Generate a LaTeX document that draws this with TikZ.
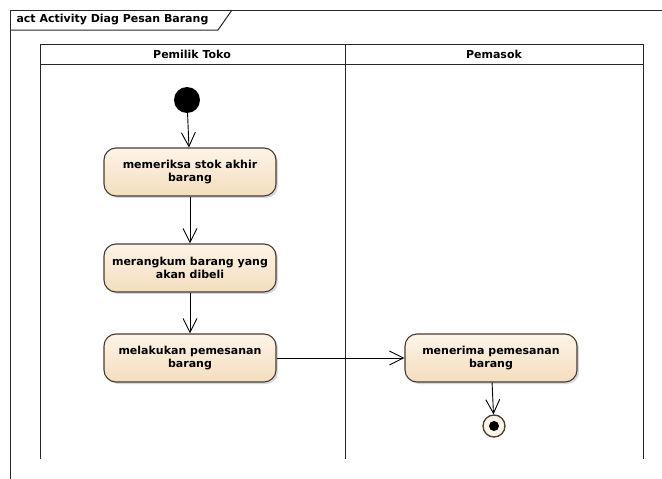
\documentclass[tikz,border=0pt]{standalone}
\usepackage{fontspec}
\setmainfont{DejaVu Sans}
\usetikzlibrary{arrows.meta,positioning,shadows}

\definecolor{acttop}{RGB}{253,244,232}
\definecolor{actbottom}{RGB}{244,221,190}
\definecolor{actline}{RGB}{70,60,50}

\begin{document}
\begin{tikzpicture}
  [x=1pt,y=-1pt,
   action/.style={rectangle,rounded corners=12pt,draw=actline,line width=1.1pt,top color=acttop,bottom color=actbottom,minimum width=172pt,minimum height=48pt,align=center,font=\fontsize{11}{13}\selectfont\bfseries,drop shadow={shadow xshift=2pt,shadow yshift=-2pt,fill=black!30}},
   initial/.style={circle,fill=black,minimum size=26pt,inner sep=0pt},
   final/.style={circle,draw=actline,line width=1.3pt,fill=acttop,minimum size=22pt,inner sep=0pt,path picture={\fill[black] (path picture bounding box.center) circle (5pt);}},
   lane/.style={line width=1pt,draw=black!85},
   header/.style={font=\fontsize{11}{13}\selectfont\bfseries},
   flow/.style={line width=0.9pt,-{Straight Barb[length=14pt,width=14pt,line width=0.9pt]}}]
  \useasboundingbox (0,0) rectangle (662,479);
  % diagram frame and title tab
  \draw[lane] (10,479) -- (10,10) -- (662,10);
  \draw[lane] (10,30) -- (218,30) -- (232,10);
  \node[header,anchor=west] (title) at (13,20) {act Activity Diag Pesan Barang};
  % swimlanes
  \draw[lane] (40,459) -- (40,44) -- (643,44) -- (643,459);
  \draw[lane] (40,64) -- (643,64);
  \draw[lane] (345,44) -- (345,459);
  \node[header] (owner) at (192,54) {Pemilik Toko};
  \node[header] (supplier) at (494,54) {Pemasok};
  % activities
  \node[initial] (start) at (187,100) {};
  \node[action] (check) at (190,172) {memeriksa stok akhir\\barang};
  \node[action] (summarize) at (190,268) {merangkum barang yang\\akan dibeli};
  \node[action] (order) at (190,358) {melakukan pemesanan\\barang};
  \node[action] (receive) at (491,358) {menerima pemesanan\\barang};
  \node[final] (stop) at (494,426) {};
  \draw[flow] (start) -- (check);
  \draw[flow] (check) -- (summarize);
  \draw[flow] (summarize) -- (order);
  \draw[flow] (order) -- (receive);
  \draw[flow] (receive) -- (stop);
\end{tikzpicture}
\end{document}
